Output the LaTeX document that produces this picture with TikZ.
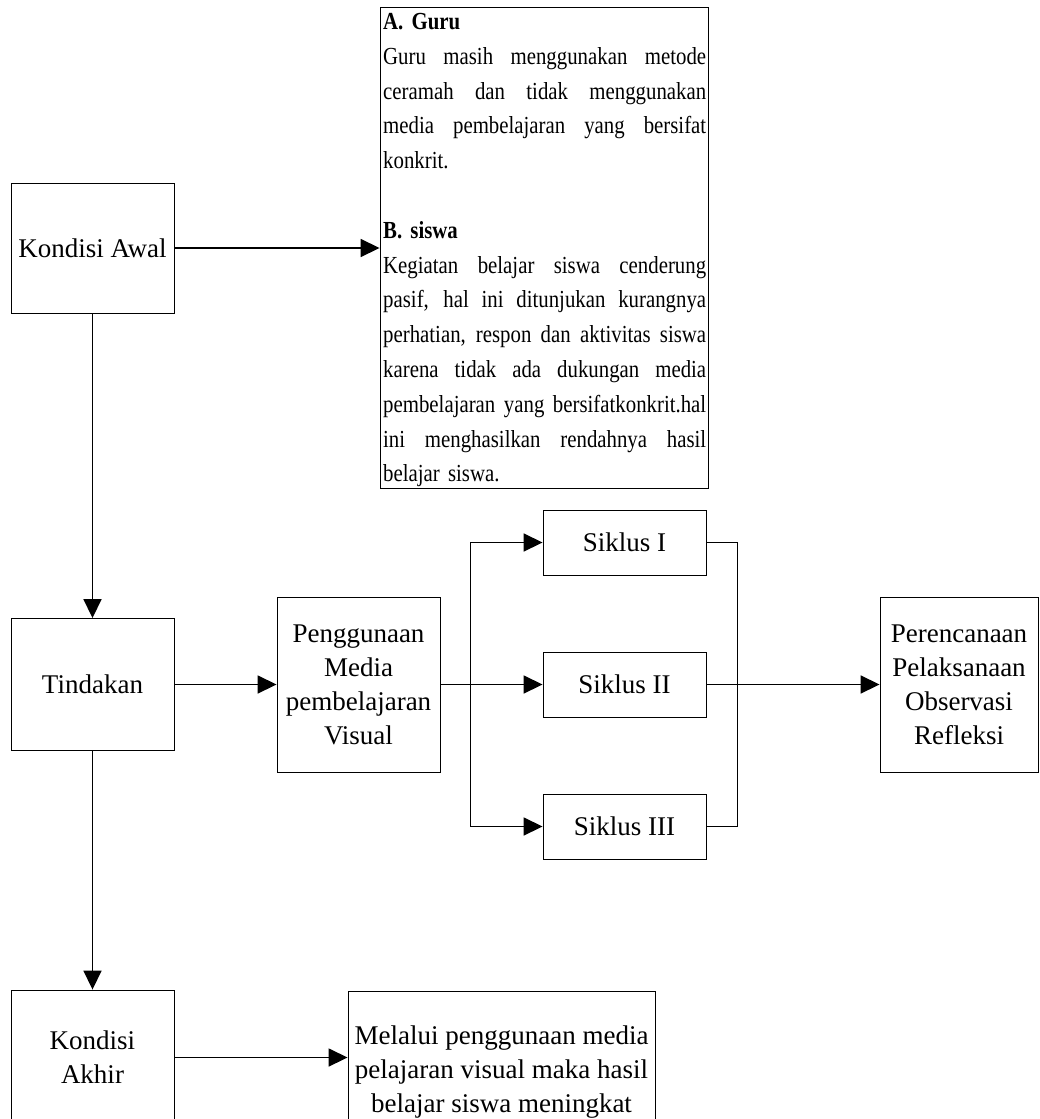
\documentclass[tikz,border=0pt]{standalone}
\usepackage{fontspec}
\setmainfont{Liberation Serif}
\newfontfamily\narrowserif[FakeStretch=0.85]{Liberation Serif}
\usetikzlibrary{arrows.meta}

% width of one justified line inside the description box
\newlength{\descw}
\setlength{\descw}{323pt}
% a fully justified line: the interword spaces take up the slack
\newcommand{\jline}[1]{\leavevmode\hbox to\descw{\spaceskip=0.25em plus 1fil\relax #1}}

\begin{document}
\begin{tikzpicture}[x=1pt, y=-1pt,
  box/.style={draw, line width=0.9pt, rectangle, inner sep=0pt, align=center,
              font=\fontsize{27}{34}\selectfont},
  link/.style={line width=1.7pt},
  conn/.style={link, -{Triangle[length=19pt,width=18pt]}}
]
\useasboundingbox (0,0) rectangle (1039,1119);
\fill[white] (0,0) rectangle (1039,1119);
\clip (0,0) rectangle (1039,1119);

% left column
\node[box, minimum width=163pt, minimum height=130pt] (awal) at (92.5,248) {Kondisi Awal};
\node[box, minimum width=163pt, minimum height=132pt] (tind) at (92.5,684.5) {Tindakan};
\node[box, minimum width=163pt, minimum height=135pt] (akhir) at (92.5,1057.5) {Kondisi\\Akhir};

% description of the initial condition
\node[box, minimum width=328pt, minimum height=481pt] (desc) at (544,247.5) {};
\node[anchor=north west, inner sep=0pt, text width=\descw, align=left,
      font=\narrowserif\fontsize{24.5}{34.8}\selectfont] (desctext) at (383,5) {%
  \strut\textbf{A. Guru}\\
  \jline{Guru masih menggunakan metode}\\
  \jline{ceramah dan tidak menggunakan}\\
  \jline{media pembelajaran yang bersifat}\\
  konkrit.\\
  \mbox{}\\
  \textbf{B. siswa}\\
  \jline{Kegiatan belajar siswa cenderung}\\
  \jline{pasif, hal ini ditunjukan kurangnya}\\
  \jline{perhatian, respon dan aktivitas siswa}\\
  \jline{karena tidak ada dukungan media}\\
  \jline{pembelajaran yang bersifatkonkrit.hal}\\
  \jline{ini menghasilkan rendahnya hasil}\\
  belajar siswa.};

% action branch
\node[box, minimum width=163pt, minimum height=175pt] (media) at (358.5,684.5)
  {Penggunaan\\Media\\pembelajaran\\Visual};
\node[box, minimum width=163pt, minimum height=65pt] (s1) at (624.5,542.5) {Siklus I};
\node[box, minimum width=163pt, minimum height=65pt] (s2) at (624.5,684.5) {Siklus II};
\node[box, minimum width=163pt, minimum height=65pt] (s3) at (624.5,826.5) {Siklus III};
\node[box, minimum width=158pt, minimum height=175pt] (per) at (959,684.5)
  {Perencanaan\\Pelaksanaan\\Observasi\\Refleksi};

% outcome
\node[box, minimum width=307pt, minimum height=162pt] (hasil) at (501.5,1072)
  {Melalui penggunaan media\\pelajaran visual maka hasil\\belajar siswa meningkat};

% connectors
\coordinate (split) at (470.5,684.5);
\coordinate (join) at (737.5,684.5);

\draw[conn] (awal.east) -- (awal.east -| desc.west);
\draw[conn] (awal.south) -- (tind.north);
\draw[conn] (tind.south) -- (akhir.north);
\draw[conn] (tind.east) -- (media.west);
\draw[link] (media.east) -- (split);
\draw[conn] (split) |- (s1.west);
\draw[conn] (split) -- (s2.west);
\draw[conn] (split) |- (s3.west);
\draw[link] (s1.east) -| (join);
\draw[link] (s3.east) -| (join);
\draw[conn] (s2.east) -- (per.west);
\draw[conn] (akhir.east) -- (akhir.east -| hasil.west);
\end{tikzpicture}
\end{document}
